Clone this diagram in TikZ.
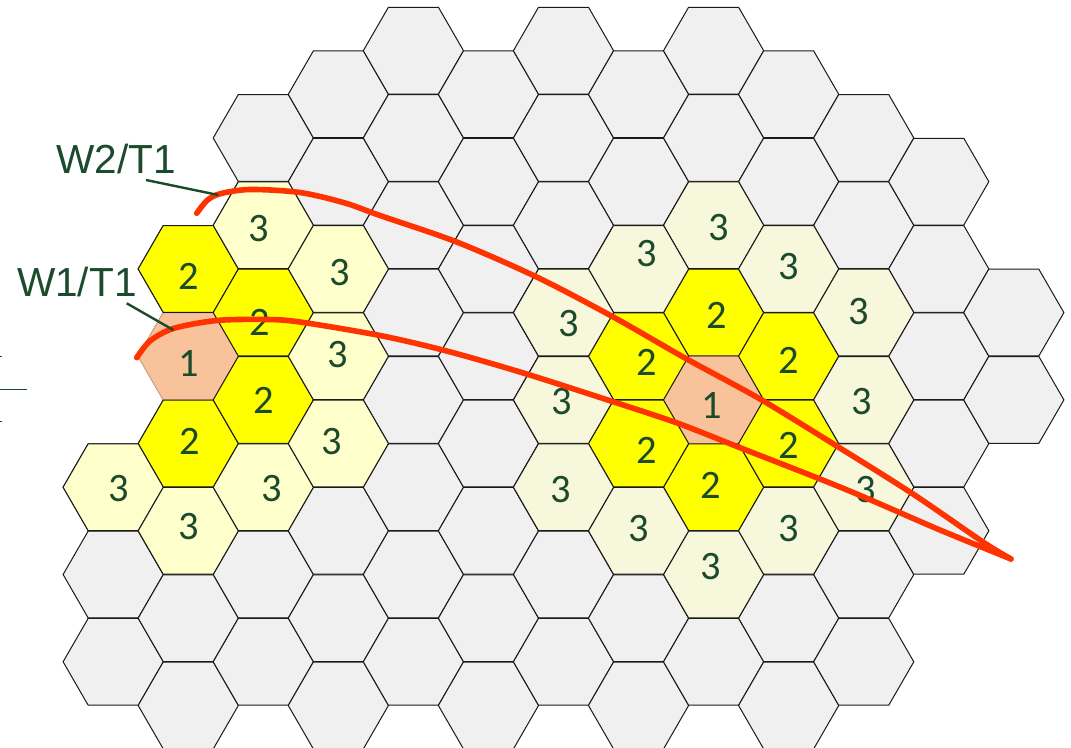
\documentclass[tikz,border=0pt]{standalone}
\usepackage{fontspec}
\setmainfont{Liberation Sans}
\newfontfamily\digitfont{Carlito}
\usepackage{tikz}
\usetikzlibrary{shapes.geometric}
\usepackage{xcolor}
\definecolor{cellgray}{HTML}{F0F0F0}
\definecolor{cellline}{HTML}{1A1A1A}
\definecolor{ringone}{HTML}{FFFF00}
\definecolor{ringtwoL}{HTML}{FFFFCC}
\definecolor{ringtwoR}{HTML}{F6F7DB}
\definecolor{srvfill}{HTML}{F8C39B}
\definecolor{srvline}{HTML}{E6A987}
\definecolor{txtgreen}{HTML}{1B4A2C}
\definecolor{beamred}{HTML}{FF3300}

\begin{document}
\begin{tikzpicture}[x=0.5pt, y=-0.5pt,
		hexcell/.style={regular polygon, regular polygon sides=6, minimum size=50.1pt,
			inner sep=0pt, outer sep=0pt, draw=cellline, line width=0.5pt, fill=cellgray},
		num/.style={inner sep=0pt, text=txtgreen, font=\digitfont\fontsize{20.2}{24}\selectfont},
		tag/.style={inner sep=0pt, anchor=base west, text=txtgreen, font=\fontsize{20.3}{24}\selectfont},
		beam/.style={draw=beamred, line width=2.8pt, line cap=round, line join=round},
		leader/.style={draw=txtgreen, line width=1.2pt}]
	\useasboundingbox (0,0) rectangle (1071,748);
	\foreach \c/\rlo/\rhi in {0/5/7, 1/2/7, 2/1/7, 3/0/7, 4/0/7, 5/0/7, 6/0/7,
			7/0/7, 8/0/7, 9/0/7, 10/1/7, 11/1/5, 12/3/4}
		\foreach \r in {\rlo,...,\rhi}
			\node[hexcell] (h\c-\r) at ({113.2+75.05*\c}, {50.7+87.3*\r+43.65*mod(\c,2)}) {};
	\foreach \c/\r/\f/\d in {1/3/srvfill/srvline, 8/4/srvfill/srvline,
			1/2/ringone/cellline, 1/4/ringone/cellline, 2/3/ringone/cellline, 2/4/ringone/cellline,
			0/5/ringtwoL/cellline, 1/5/ringtwoL/cellline, 2/2/ringtwoL/cellline, 2/5/ringtwoL/cellline,
			3/2/ringtwoL/cellline, 3/3/ringtwoL/cellline, 3/4/ringtwoL/cellline,
			8/3/ringone/cellline, 8/5/ringone/cellline, 7/3/ringone/cellline, 7/4/ringone/cellline,
			9/3/ringone/cellline, 9/4/ringone/cellline,
			8/2/ringtwoR/cellline, 8/6/ringtwoR/cellline, 7/2/ringtwoR/cellline, 7/5/ringtwoR/cellline,
			9/2/ringtwoR/cellline, 9/5/ringtwoR/cellline, 6/3/ringtwoR/cellline, 6/4/ringtwoR/cellline,
			6/5/ringtwoR/cellline, 10/3/ringtwoR/cellline, 10/4/ringtwoR/cellline, 10/5/ringtwoR/cellline}
		\node[hexcell, fill=\f, draw=\d] (z\c-\r) at ({113.2+75.05*\c}, {50.7+87.3*\r+43.65*mod(\c,2)}) {};
	\foreach \x/\y/\t [count=\i] in {188.3/276.7/2, 189/364/1, 189.7/441.7/2, 188.6/527/3,
			259/228.3/3, 260/322.5/2, 263.4/400/2, 272/488.3/3, 118.6/488.3/3,
			339.7/273/3, 337.9/355/3, 331.9/441.7/3,
			718.3/227.5/3, 646.7/253.3/3, 568.7/323.3/3, 716.7/315.8/2, 646.7/362.5/2,
			711.7/405.8/1, 561.7/401.7/3, 788.3/266.7/3, 859/311.7/3, 861.7/401.7/3,
			788.3/360/2, 788.3/445/2, 788.3/528.3/3, 865.7/490/3, 561/490/3,
			647.2/450/2, 710.3/485/2, 638.6/528.3/3, 710.3/566.7/3}
		\node[num] (lab\i) at (\x,\y) {\t};
	\draw[beam] plot[smooth, tension=0.5] coordinates {(196.7,213.3) (207,200.5) (220,193.8)
		(250,189.5) (300,192.5) (345,203) (380,215.5) (456.7,242) (536.7,277) (613.3,317)
		(686.7,359) (760,399) (836.7,446) (913,494) (983,542) (1011,559)};
	\draw[beam] plot[smooth, tension=0.5] coordinates {(136.7,357.7) (150,341) (173.3,328.5)
		(216.7,320.5) (266.7,319.5) (300,322) (380,335.5) (446.7,351) (523.3,373) (613,401.7)
		(678,423.3) (737,446.5) (820,479) (865,497.5) (940,530) (1011,559)};
	\node[tag] (w2tag) at (56,173.3) {W2/T1};
	\node[tag] (w1tag) at (16.7,296.7) {W1/T1};
	\coordinate (w2foot) at (146,180);
	\coordinate (w2hit) at (218.3,195);
	\coordinate (w1foot) at (126.7,303.3);
	\coordinate (w1hit) at (173.3,330);
	\draw[leader] (w2foot) -- (w2hit);
	\draw[leader] (w1foot) -- (w1hit);
	\draw[txtgreen, line width=0.5pt] (0,389.3) -- (26.5,389.3);
	\draw[txtgreen, line width=0.5pt] (0,356.7) -- (1.5,356.7);
	\draw[txtgreen, line width=0.5pt] (0,421.7) -- (1.5,421.7);
\end{tikzpicture}
\end{document}
